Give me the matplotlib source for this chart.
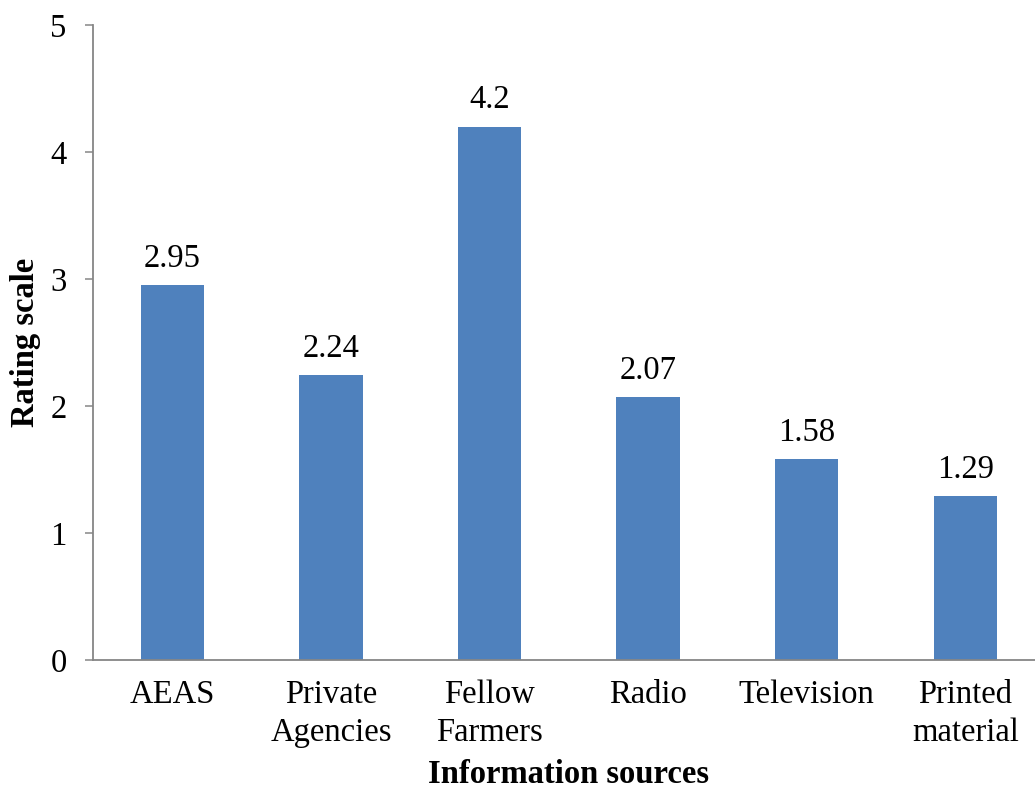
import matplotlib.pyplot as plt

plt.rcParams["font.family"] = ["Liberation Serif", "DejaVu Serif"]

categories = ["AEAS", "Private\nAgencies", "Fellow\nFarmers", "Radio", "Television", "Printed\nmaterial"]
values = [2.95, 2.24, 4.2, 2.07, 1.58, 1.29]
value_labels = ["2.95", "2.24", "4.2", "2.07", "1.58", "1.29"]

FS = 23.5

fig = plt.figure(figsize=(10.35, 7.92), dpi=100)
ax = fig.add_axes([0.0899, 0.1667, 0.9194, 0.8018])

x = range(len(categories))
bars = ax.bar(x, values, width=0.4, color="#4F81BD")

for bar, txt in zip(bars, value_labels):
    ax.annotate(txt, (bar.get_x() + bar.get_width() / 2, bar.get_height()),
                xytext=(0, 8), textcoords="offset points",
                ha="center", va="bottom", fontsize=FS)

ax.set_xlim(-0.5, 5.5)
ax.set_ylim(0, 5)
ax.set_yticks([0, 1, 2, 3, 4, 5])
ax.set_xticks(list(x))
ax.set_xticklabels(categories, fontsize=FS, linespacing=1.34)
ax.tick_params(axis="x", length=0, pad=14)
ax.tick_params(axis="y", length=6, width=1.1, color="#868686", labelsize=FS, pad=13)

for side in ("top", "right"):
    ax.spines[side].set_visible(False)
for side in ("left", "bottom"):
    ax.spines[side].set_color("#868686")
    ax.spines[side].set_linewidth(1.3)

ax_w = 0.9194 * 1035
ax_h = 0.8018 * 792
ax.set_xlabel("Information sources", fontsize=FS, fontweight="bold")
ax.xaxis.label.set_va("center")
ax.xaxis.set_label_coords((568 - 93) / ax_w, -115 / ax_h)
ax.set_ylabel("Rating scale", fontsize=FS, fontweight="bold")
ax.yaxis.label.set_va("center")
ax.yaxis.set_label_coords(-(93 - 25) / ax_w, (660 - 342) / ax_h)

fig.savefig("out.png", dpi=100)
